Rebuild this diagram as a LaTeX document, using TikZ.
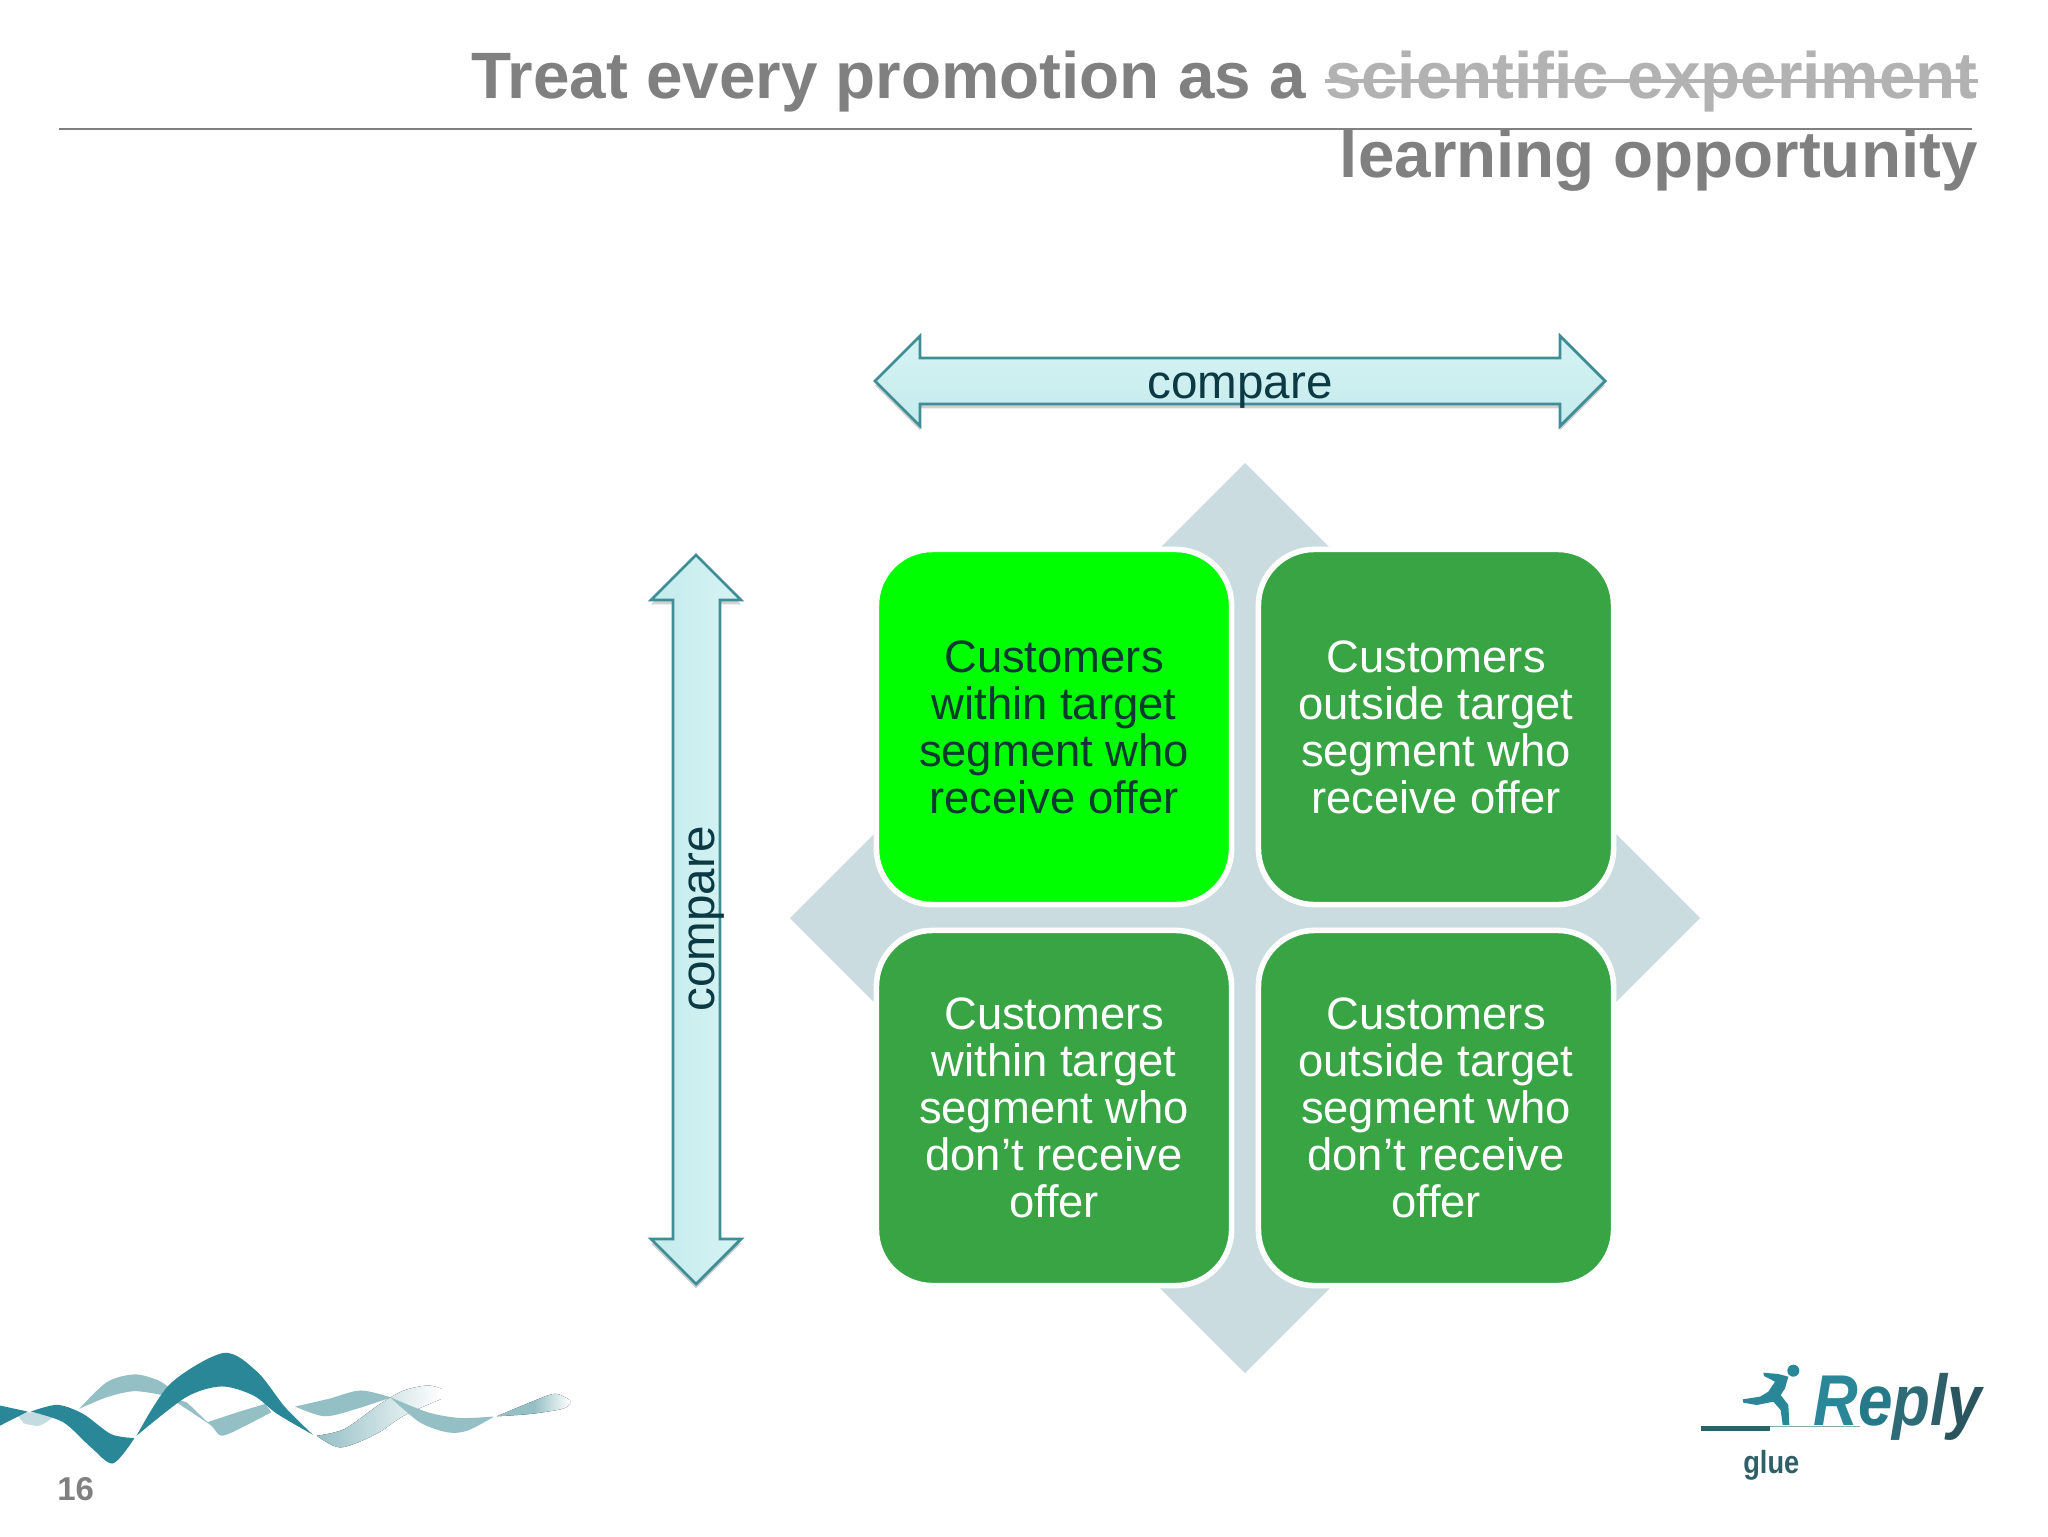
\documentclass[tikz,border=0pt]{standalone}
\usepackage{fontspec}
\setmainfont{Liberation Sans}
\usetikzlibrary{shadows,fadings}
\definecolor{titlegray}{HTML}{808080}
\definecolor{struckgray}{HTML}{B2B2B2}
\definecolor{diamondfill}{HTML}{CBDCE0}
\definecolor{brightgreen}{HTML}{00FF00}
\definecolor{midgreen}{HTML}{39A444}
\definecolor{inkdark}{HTML}{0B3A45}
\definecolor{inkgreen}{HTML}{0A3A30}
\definecolor{arrowline}{HTML}{3F8E96}
\definecolor{arrowa}{HTML}{D6F3F4}
\definecolor{arrowb}{HTML}{C4EBEC}
\definecolor{wavedark}{HTML}{2A8798}
\definecolor{wavelight}{HTML}{94BFC4}
\definecolor{logodark}{HTML}{2F5F68}
\tikzset{
  cell/.style={draw=white,line width=2.8pt,rounded corners=28pt,minimum width=177.6pt,minimum height=177.6pt,
    inner sep=0pt,align=center,font=\fontsize{22.7}{23.5}\selectfont},
  titletext/.style={font=\fontsize{32.8}{36}\selectfont\bfseries,anchor=base east,inner sep=0pt},
  cmp/.style={font=\fontsize{23.8}{25}\selectfont,text=inkdark,inner sep=0pt},
  dblarrow/.style={draw=arrowline,line width=1.4pt,line join=miter,top color=arrowa,bottom color=arrowb,
    drop shadow={shadow xshift=0pt,shadow yshift=-2.2pt,opacity=.18,fill=black}},
  vdblarrow/.style={draw=arrowline,line width=1.4pt,line join=miter,left color=arrowb,right color=arrowa,
    drop shadow={shadow xshift=0pt,shadow yshift=-2.2pt,opacity=.18,fill=black}},
}
\begin{document}
\begin{tikzpicture}[x=0.5pt,y=-0.5pt]
\useasboundingbox (0,0) rectangle (2048,1536);
\fill[white] (0,0) rectangle (2048,1536);
% title
\node[titletext,text=titlegray] (l2) at (1978,177) {learning opportunity};
\node[titletext,text=struckgray] (l1b) at (1978,98) {scientific experiment};
\node[titletext,text=titlegray] (l1a) at ([xshift=-9.1pt]l1b.base west) {Treat every promotion as a};
\draw[struckgray,line width=1.6pt] (1325,81) -- (1978,81);
\draw[titlegray,line width=1.4pt] (59,129) -- (1972,129);
% diamond
\fill[diamondfill] (1245,463) -- (1700,918) -- (1245,1373) -- (790,918) -- cycle;
% cells
\node[cell,fill=brightgreen,text=inkgreen] (tl) at (1054,727) {Customers\\within target\\segment who\\receive offer};
\node[cell,fill=midgreen,text=white] (tr) at (1436,727) {Customers\\outside target\\segment who\\receive offer};
\node[cell,fill=midgreen,text=white] (bl) at (1054,1108) {Customers\\within target\\segment who\\don’t receive\\offer};
\node[cell,fill=midgreen,text=white] (br) at (1436,1108) {Customers\\outside target\\segment who\\don’t receive\\offer};
% arrows
\path[dblarrow] (875,381) -- (920,336) -- (920,358) -- (1560,358) -- (1560,336) -- (1605,381) -- (1560,426) -- (1560,404) -- (920,404) -- (920,426) -- cycle;
\node[cmp,anchor=base] (hc) at (1240,398) {compare};
\path[vdblarrow] (696,555) -- (741,600) -- (720,600) -- (720,1239) -- (741,1239) -- (696,1284) -- (651,1239) -- (673,1239) -- (673,600) -- (651,600) -- cycle;
\node[cmp,rotate=90,anchor=base] (vc) at (714,919) {compare};
% wave
\begin{scope}[shift={(0,1300)},xscale=.396,yscale=.335]
\fill[wavelight!55] plot[smooth] coordinates {(45,345) (70,335) (140,340)} -- plot[smooth] coordinates {(140,345) (100,375) (60,368)} -- cycle;
\fill[wavelight] plot[smooth] coordinates {(200,325) (270,245) (340,222) (400,240) (430,265)} -- plot[smooth] coordinates {(415,285) (340,272) (270,290) (200,325)} -- cycle;
\fill[wavelight] plot[smooth] coordinates {(445,305) (470,305) (520,360) (530,362) (600,335) (670,310)} -- plot[smooth] coordinates {(685,335) (620,375) (560,405) (530,372) (445,305)} -- cycle;
\fill[wavelight] plot[smooth] coordinates {(745,318) (830,295) (910,270) (985,290)} -- plot[smooth] coordinates {(985,292) (900,325) (820,347) (745,318)} -- cycle;
\fill[left color=wavelight,middle color=wavelight!30,right color=white] plot[smooth] coordinates {(800,405) (870,385) (960,310) (1020,270) (1080,255) (1115,265)} -- plot[smooth] coordinates {(1115,295) (1020,345) (950,400) (860,440) (800,405)} -- cycle;
\fill[wavelight] plot[smooth] coordinates {(985,290) (1080,335) (1160,352) (1245,348)} -- plot[smooth] coordinates {(1245,350) (1180,390) (1130,395) (1060,365) (985,290)} -- cycle;
\fill[left color=wavelight,right color=white,middle color=wavelight] plot[smooth] coordinates {(1255,347) (1330,310) (1400,280) (1440,300)} -- plot[smooth] coordinates {(1440,310) (1420,325) (1340,340) (1255,347)} -- cycle;
\fill[wavedark] (0,315) -- (70,333) -- (0,375) -- cycle;
\fill[wavedark] plot[smooth] coordinates {(78,333) (145,313) (210,340) (280,400) (338,412)} -- plot[smooth] coordinates {(338,415) (285,488) (230,440) (160,365) (78,333)} -- cycle;
\fill[wavedark] plot[smooth] coordinates {(345,405) (430,250) (565,158) (650,215) (720,320) (790,402)} -- plot[smooth] coordinates {(790,402) (700,340) (640,285) (560,258) (470,290) (345,405)} -- cycle;
\end{scope}
\node[font=\fontsize{16.5}{18}\selectfont\bfseries,text=titlegray,anchor=base west,inner sep=0pt] (pg) at (57,1500) {16};
% logo
\begin{scope}[shift={(1660,1340)},scale=1/3]
\fill[logodark] (123,257) rectangle (330,274);
\draw[wavelight!70!gray,line width=.7pt] (330,259) -- (600,259);
\fill[wavedark] (400,92) circle (18);
\fill[wavedark] (310,98) -- (355,102) -- (385,110) -- (375,145) -- (362,165) -- (385,195) -- (388,255) -- (368,255) -- (362,210) -- (340,185) -- (290,195) -- (250,188) -- (248,178) -- (300,170) -- (325,155) -- (345,125) -- (312,108) -- cycle;
\end{scope}
\node[xscale=.86,font=\fontsize{36}{40}\selectfont\bfseries\itshape,anchor=base west,inner sep=0pt] (rp) at (1813,1425)
  {\textcolor{wavedark}{R}\textcolor{wavedark!90!black}{e}\textcolor{logodark!70!wavedark}{p}\textcolor{logodark}{l}\textcolor{logodark!90!black}{y}};
\node[xscale=.85,font=\fontsize{16}{18}\selectfont\bfseries,text=logodark,anchor=base west,inner sep=0pt] (gl) at (1743,1473) {glue};
\end{tikzpicture}
\end{document}
